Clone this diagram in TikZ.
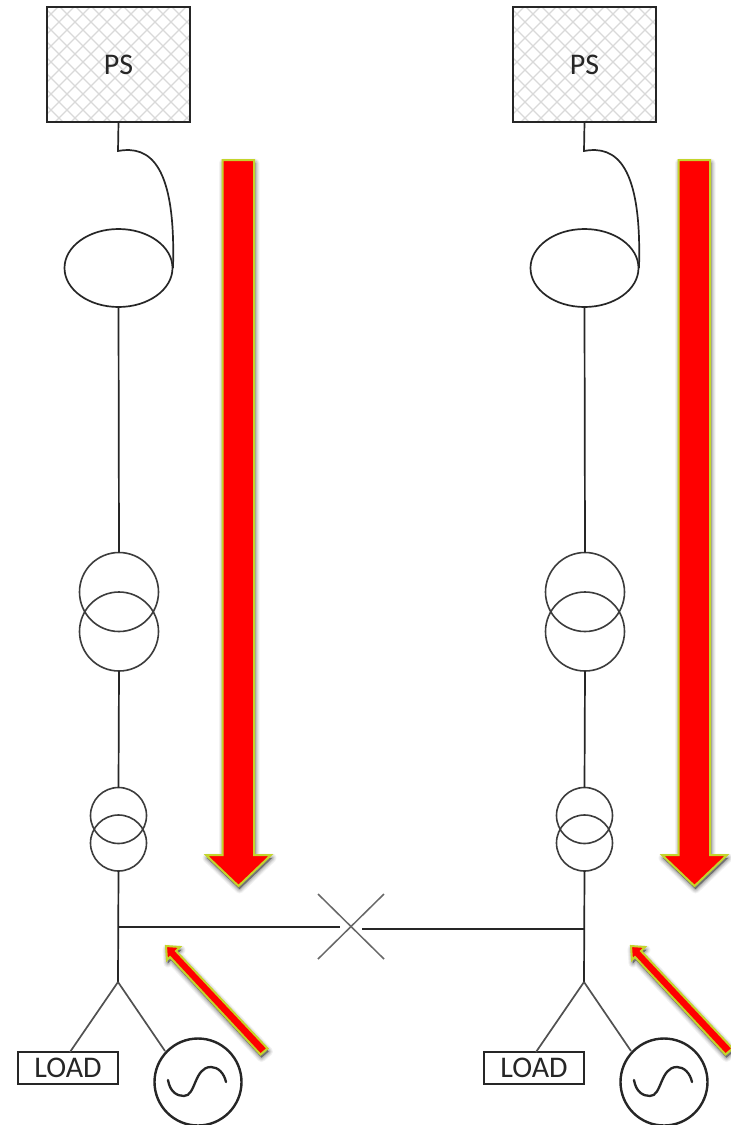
\documentclass[tikz,border=0pt]{standalone}
\usepackage{fontspec}
\setmainfont{Carlito}
\usetikzlibrary{shapes.geometric}
\definecolor{wire}{HTML}{262626}
\definecolor{olive}{HTML}{C4D52C}
\tikzset{
  x=1pt,y=-1pt,
  wireline/.style={draw=wire,line width=1.7pt},
  thinwire/.style={draw=wire!80,line width=1.7pt},
  coil/.style={circle,draw=wire!90,line width=1.6pt,inner sep=0pt,outer sep=0pt,fill=none},
  bigcoil/.style={coil,minimum size=79pt},
  smallcoil/.style={coil,minimum size=56pt},
  loop/.style={ellipse,draw=wire,line width=1.7pt,inner sep=0pt,outer sep=0pt,minimum width=108pt,minimum height=78pt},
  psbox/.style={rectangle,draw=wire,line width=2pt,inner sep=0pt,outer sep=0pt,minimum width=143pt,minimum height=115pt,font=\fontsize{30}{30}\selectfont,text=wire},
  loadbox/.style={rectangle,draw=wire,line width=1.7pt,inner sep=0pt,outer sep=0pt,minimum width=100pt,minimum height=32pt,font=\fontsize{30}{30}\selectfont,text=wire},
  gen/.style={circle,draw=wire,line width=2.4pt,inner sep=0pt,outer sep=0pt,minimum size=87pt},
  hatch/.style={draw=black!15,line width=1.2pt},
  redarrow/.style={fill=red,draw=olive,line width=2pt,line join=miter},
}
\newcommand{\shadowed}[1]{%
  \foreach \w/\o in {9/0.05,7/0.06,5/0.08,3/0.10,1/0.12}{%
    \fill[black,opacity=\o,draw=black,draw opacity=\o,line width=\w pt,line join=round,shift={(1,3)}] #1;}%
  \path[redarrow] #1;}
\newcommand{\hatchbox}[1]{%
  \begin{scope}
    \clip (#1,7) rectangle (#1+143,122);
    \foreach \k in {-16,0,...,288}{%
      \draw[hatch] (#1+\k-120,122) -- (#1+\k,2);
      \draw[hatch] (#1+\k-120,2) -- (#1+\k,122);
    }
  \end{scope}}
\newcommand{\feeder}[3]{%
  \begin{scope}[shift={(#2,0)}]
    \node[psbox,fill=none] (#1ps) at (118.5,64.5) {PS};
    \node[loop] (#1loop) at (118.5,268) {};
    \node[bigcoil] (#1ta) at (119,592) {};
    \node[bigcoil] (#1tb) at (119,631.5) {};
    \node[smallcoil] (#1sa) at (118.5,815.5) {};
    \node[smallcoil] (#1sb) at (118.5,843) {};
    \coordinate (#1bend) at (118,151);
    \coordinate (#1hub) at (118,982);
    \coordinate (#1tap) at (118,#3);
    \node[loadbox] (#1load) at (68,1068) {LOAD};
    \node[gen] (#1gen) at (198,1082) {};
    \coordinate (#1loadtop) at (70,1052);
    \coordinate (#1gentop) at (165,1051);
    \draw[wireline] (#1ps.south) -- (#1bend) .. controls (150,145) and (176,165) .. (173,268);
    \draw[wireline] (#1loop.south) -- (#1ta.north);
    \draw[wireline] (#1tb.south) -- (#1sa.north);
    \draw[wireline] (#1sb.south) -- (#1hub);
    \draw[thinwire] (#1hub) -- (#1loadtop);
    \draw[thinwire] (#1hub) -- (#1gentop);
    \draw[draw=wire,line width=2.3pt,line cap=round]
      (168,1080) .. controls (170,1092) and (177,1096) .. (184,1096)
      .. controls (196,1096) and (194,1067) .. (211,1067)
      .. controls (218,1067) and (224,1073) .. (226,1082);
  \end{scope}}
\begin{document}
\begin{tikzpicture}
\useasboundingbox (0,0) rectangle (731,1125);
\fill[white] (0,0) rectangle (731,1125);
\hatchbox{47}
\hatchbox{513}
\feeder{l}{0}{927}
\feeder{r}{466}{929}
% breaker
\coordinate (xa) at (318,894);
\coordinate (xb) at (384,959);
\coordinate (xc) at (384,894);
\coordinate (xd) at (318,959);
\coordinate (xl) at (340,927);
\coordinate (xr) at (362,929);
\draw[draw=wire!70,line width=1.5pt] (xa) -- (xb);
\draw[draw=wire!70,line width=1.5pt] (xc) -- (xd);
\draw[wireline] (ltap) -- (xl);
\draw[wireline] (xr) -- (rtap);
% big arrows
\shadowed{(222.5,160) -- (254,160) -- (254,855) -- (271,855) -- (238.5,886) -- (206,855) -- (222.5,855) -- cycle}
\shadowed{(678.5,160) -- (710,160) -- (710,855) -- (727,855) -- (694.5,886) -- (662,855) -- (678.5,855) -- cycle}
% small arrows
\shadowed{(166,946) -- (180,947) -- (176,951) -- (267.5,1048.5) -- (260.5,1054.5) -- (170,957) -- (167,960) -- cycle}
\shadowed{(631,946) -- (645,947) -- (641,951) -- (732.5,1048.5) -- (725.5,1054.5) -- (635,957) -- (632,960) -- cycle}
\end{tikzpicture}
\end{document}
